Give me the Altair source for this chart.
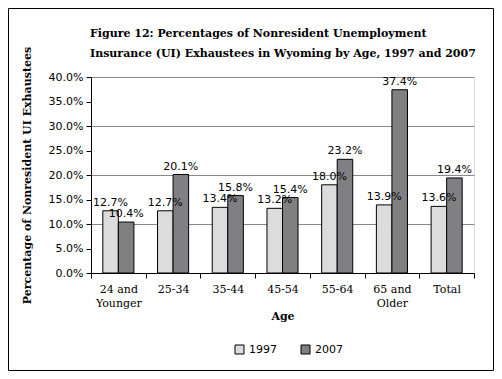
import altair as alt
import pandas as pd

categories = ["24 and\nYounger", "25-34", "35-44", "45-54", "55-64", "65 and\nOlder", "Total"]
years = ["1997", "2007"]
v1997 = [12.7, 12.7, 13.4, 13.2, 18.0, 13.9, 13.6]
v2007 = [10.4, 20.1, 15.8, 15.4, 23.2, 37.4, 19.4]
y_ticks = [0.0, 0.05, 0.10, 0.15, 0.20, 0.25, 0.30, 0.35, 0.40]
title_lines = ["Figure 12: Percentages of Nonresident Unemployment",
               "Insurance (UI) Exhaustees in Wyoming by Age, 1997 and 2007"]

rows = []
for c, a, b in zip(categories, v1997, v2007):
    rows.append({"age": c, "year": "1997", "value": a / 100})
    rows.append({"age": c, "year": "2007", "value": b / 100})
df = pd.DataFrame(rows)

W, H = 383, 196
PADL, PADT = 83, 69
TOTW, TOTH = 486, 363
PADR = TOTW - PADL - W
PADB = TOTH - PADT - H

SERIF = "DejaVu Serif"
SANS = "DejaVu Sans"

xaxis = alt.Axis(title="Age", labelAngle=0, tickBand="extent", tickSize=5,
                 tickColor="black", domainColor="black",
                 labelExpr="isString(datum.value) ? split(datum.value, '\\n') : ''",
                 labelFont=SERIF, labelFontSize=11, labelColor="black",
                 labelPadding=5, labelLineHeight=14,
                 titleFont=SERIF, titleFontSize=11, titleFontWeight="bold",
                 titleColor="black", titlePadding=2)
yaxis = alt.Axis(title="Percentage of Nonresident UI Exhaustees", values=y_ticks,
                 tickCount=20, format=".1%", grid=True, gridColor="#888888",
                 gridOpacity=alt.condition("round(datum.value * 100) % 10 == 0 && datum.value > 0",
                                           alt.value(1), alt.value(0)),
                 tickSize=5, tickColor="black",
                 domainColor="black", labelFont=SANS, labelFontSize=11,
                 labelColor="black", labelPadding=3, labelOverlap=False,
                 titleFont=SERIF, titleFontSize=11, titleFontWeight="bold",
                 titleColor="black", titleX=-59)
xenc = alt.X("age:N", sort=categories, scale=alt.Scale(paddingInner=0, paddingOuter=0),
             axis=xaxis)
yscale = alt.Scale(domain=[0, 0.4], nice=False)
xoff = alt.XOffset("year:N", scale=alt.Scale(paddingOuter=0.76, paddingInner=0))

base = alt.Chart(df)

bars = base.mark_bar(stroke="black", strokeWidth=1).encode(
    x=xenc,
    xOffset=xoff,
    y=alt.Y("value:Q", scale=yscale, axis=yaxis),
    color=alt.Color("year:N", scale=alt.Scale(domain=years, range=["#dcdcdc", "#808083"]),
                    legend=alt.Legend(title=None, orient="none", legendX=143, legendY=267,
                                      direction="horizontal", symbolType="square",
                                      symbolSize=81, symbolStrokeColor="black",
                                      symbolStrokeWidth=1, labelFont=SANS, labelFontSize=11,
                                      labelColor="black", columnPadding=22, symbolOpacity=1)),
)

labels = base.mark_text(baseline="bottom", dy=-3, font=SANS, fontSize=11, color="black").encode(
    x=alt.X("age:N", sort=categories),
    xOffset=xoff,
    y=alt.Y("value:Q", scale=yscale),
    text=alt.Text("value:Q", format=".1%"),
)

title1 = alt.Chart(alt.Data(values=[{"t": title_lines[0]}])).mark_text(
    align="left", baseline="alphabetic", font=SERIF, fontSize=11, fontWeight="bold", color="black"
).encode(x=alt.value(-1), y=alt.value(-40), text="t:N")
title2 = alt.Chart(alt.Data(values=[{"t": title_lines[1]}])).mark_text(
    align="left", baseline="alphabetic", font=SERIF, fontSize=11, fontWeight="bold", color="black"
).encode(x=alt.value(-1), y=alt.value(-20), text="t:N")

frame = alt.Chart(alt.Data(values=[{"a": 1}])).mark_rect(fill=None, stroke="black", strokeWidth=1).encode(
    x=alt.value(-PADL + 0.5), x2=alt.value(TOTW - PADL - 0.5),
    y=alt.value(-PADT + 0.5), y2=alt.value(TOTH - PADT - 0.5),
)

chart = alt.layer(bars, labels, title1, title2, frame).properties(
    width=W, height=H,
    autosize=alt.AutoSizeParams(type="none"),
    padding={"left": PADL, "top": PADT, "right": PADR, "bottom": PADB},
).configure_view(stroke="#888888", strokeWidth=1).configure(background="white")

chart.save("out.html", embed_options={"renderer": "svg", "actions": False})
